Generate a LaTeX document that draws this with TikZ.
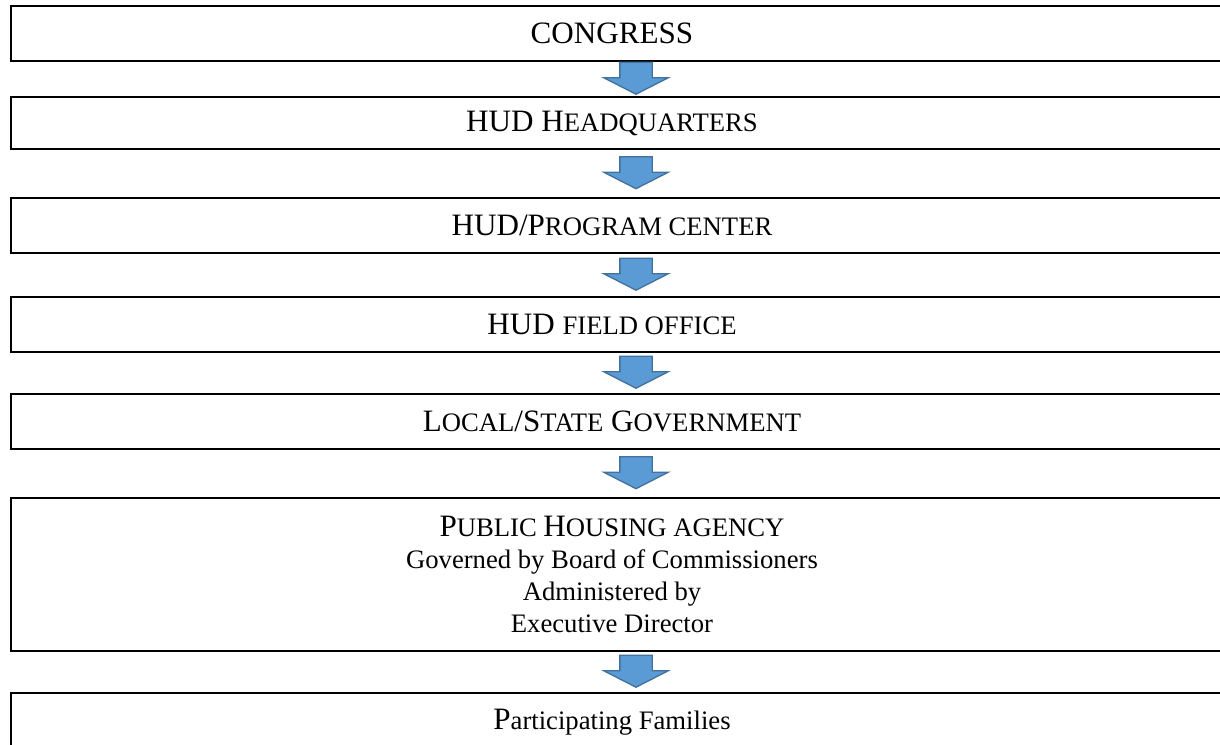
\documentclass[tikz,border=0pt]{standalone}
\usepackage{fontspec}
\setmainfont{Liberation Serif}
\usetikzlibrary{shapes,arrows,calc}
\definecolor{flowfill}{HTML}{5B9BD5}
\definecolor{flowline}{HTML}{41719C}
\newcommand\pxu{0.45pt}
\newcommand\smcap[1]{{\fontsize{12}{14.5}\selectfont #1}}

\begin{document}
\begin{tikzpicture}[x=\pxu,y=-\pxu,
	box/.style={draw,line width=0.9pt,rectangle,anchor=north west,minimum width=1250*\pxu,inner sep=0pt},
	boxtext/.style={font=\fontsize{14}{14.5}\selectfont,align=center,inner sep=0pt},
	flow/.style={single arrow,draw=flowline,fill=flowfill,line width=0.6pt,rotate=-90,anchor=tail,
		inner xsep=0pt,inner ysep=15.5*\pxu,minimum height=32*\pxu,
		single arrow head extend=16*\pxu,single arrow tip angle=126}]
	\useasboundingbox (0,0) rectangle (1220,744);
	\clip (0,0) rectangle (1220,744);
	% the boxes, they run on past the right edge
	\node[box,minimum height=55*\pxu] (congress) at (10,5) {};
	\node[box,minimum height=52*\pxu] (hq) at (10,96) {};
	\node[box,minimum height=55*\pxu] (center) at (10,197) {};
	\node[box,minimum height=55*\pxu] (field) at (10,296) {};
	\node[box,minimum height=55*\pxu] (gov) at (10,393) {};
	\node[box,minimum height=153*\pxu] (pha) at (10,497) {};
	\node[box,minimum height=60*\pxu] (families) at (10,692) {};
	% texts sit a bit left of the box centre
	\node[boxtext] (congress-t) at ($(congress.center)+(-24,0)$) {CONGRESS};
	\node[boxtext] (hq-t) at ($(hq.center)+(-24,0)$) {HUD H\smcap{EADQUARTERS}};
	\node[boxtext] (center-t) at ($(center.center)+(-24,0)$) {HUD/P\smcap{ROGRAM CENTER}};
	\node[boxtext] (field-t) at ($(field.center)+(-24,0)$) {HUD \smcap{FIELD OFFICE}};
	\node[boxtext] (gov-t) at ($(gov.center)+(-24,0)$) {L\smcap{OCAL}/S\smcap{TATE} G\smcap{OVERNMENT}};
	\node[boxtext,font=\fontsize{12}{14.5}\selectfont] (pha-t) at ($(pha.center)+(-24,0)$)
		{{\fontsize{14}{14.5}\selectfont P}UBLIC {\fontsize{14}{14.5}\selectfont H}OUSING AGENCY\\
		Governed by Board of Commissioners\\ Administered by\\ Executive Director};
	\node[boxtext] (families-t) at ($(families.north)+(-24,30)$) {P\smcap{articipating Families}};
	% block arrows between the boxes, tail just under the upper box
	\foreach \a/\b in {congress/hq,hq/center,center/field,field/gov,gov/pha,pha/families}
		\node[flow] (to-\b) at ($(\a.south)!0.5!(\b.north)+(0,-17.5)$) {};
\end{tikzpicture}
\end{document}
